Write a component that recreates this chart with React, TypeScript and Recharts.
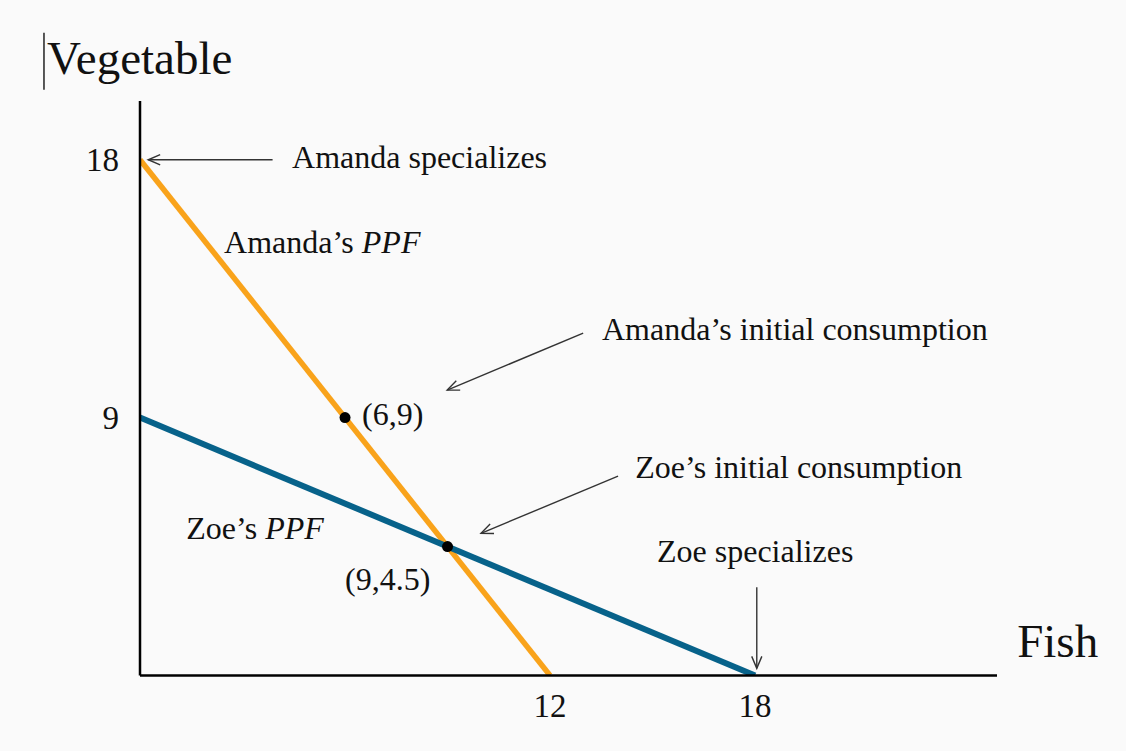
import { ComposedChart, Line, Scatter, XAxis, YAxis, ReferenceLine, ReferenceDot } from "recharts";

// PPF endpoints (fish, vegetable)
const amandaPPF = [{ x: 0, y: 18 }, { x: 12, y: 0 }];
const zoePPF = [{ x: 0, y: 9 }, { x: 18, y: 0 }];
const consumption = [{ x: 6, y: 9 }, { x: 9, y: 4.5 }];
const xTicks = [12, 18];
const yTicks = [9, 18];

// annotation text anchors in data units (left edge, baseline)
const labels = [
  { x: 4.45, y: 17.71, text: "Amanda specializes" },
  { x: 2.46, y: 14.75, text: "Amanda\u2019s ", italic: "PPF" },
  { x: 13.52, y: 11.71, text: "Amanda\u2019s initial consumption" },
  { x: 6.5, y: 8.74, text: "(6,9)" },
  { x: 14.49, y: 6.89, text: "Zoe\u2019s initial consumption" },
  { x: 1.35, y: 4.77, text: "Zoe\u2019s ", italic: "PPF" },
  { x: 6.0, y: 2.98, text: "(9,4.5)" },
  { x: 15.13, y: 3.96, text: "Zoe specializes" },
];
const axisTitles = [
  { x: -2.72, y: 21.0, text: "Vegetable" },
  { x: 25.67, y: 0.65, text: "Fish" },
];
// arrows: tail -> head
const arrows = [
  { from: { x: 3.88, y: 18 }, to: { x: 0.24, y: 18 } },
  { from: { x: 12.97, y: 11.95 }, to: { x: 8.99, y: 9.96 } },
  { from: { x: 13.99, y: 6.96 }, to: { x: 9.98, y: 4.96 } },
  { from: { x: 18.05, y: 3.08 }, to: { x: 18.05, y: 0.25 } },
];

const FONT = '"Liberation Serif", "Times New Roman", serif';

const arrowShape = (p: any) => {
  const { x1, y1, x2, y2 } = p;
  const a = Math.atan2(y2 - y1, x2 - x1);
  const len = 13;
  const s = 0.4;
  const hx1 = x2 - len * Math.cos(a - s), hy1 = y2 - len * Math.sin(a - s);
  const hx2 = x2 - len * Math.cos(a + s), hy2 = y2 - len * Math.sin(a + s);
  return (
    <g stroke="#333" strokeWidth={1.4} fill="none">
      <line x1={x1} y1={y1} x2={x2} y2={y2} />
      <path d={`M${hx1},${hy1} L${x2},${y2} L${hx2},${hy2}`} />
    </g>
  );
};

const tickStyle = { fontSize: 33, fill: "#111", fontFamily: FONT };

export default function App() {
  return (
    <div style={{ position: "fixed", left: 0, top: 0, width: 1126, height: 751, background: "#fafafa" }}>
      <ComposedChart width={1126} height={751} margin={{ top: 101, right: 129, bottom: 45.5, left: 100 }}>
        <XAxis
          type="number"
          dataKey="x"
          domain={[0, 25.08]}
          allowDataOverflow
          ticks={xTicks}
          tickLine={false}
          tickSize={0}
          tickMargin={18}
          height={30}
          axisLine={{ stroke: "#000", strokeWidth: 2.5 }}
          tick={tickStyle}
        />
        <YAxis
          type="number"
          dataKey="y"
          domain={[0, 20.05]}
          allowDataOverflow
          ticks={yTicks}
          tickLine={false}
          tickSize={0}
          tickMargin={21}
          width={40}
          axisLine={{ stroke: "#000", strokeWidth: 2.5 }}
          tick={tickStyle}
        />
        <Line data={amandaPPF} dataKey="y" stroke="#f9a31b" strokeWidth={5.5} dot={false} isAnimationActive={false} />
        <Line data={zoePPF} dataKey="y" stroke="#07628a" strokeWidth={6} dot={false} isAnimationActive={false} />
        <Scatter data={consumption} dataKey="y" fill="#000" shape={(p: any) => <circle cx={p.cx} cy={p.cy} r={5.5} fill="#000" />} isAnimationActive={false} />
        {arrows.map((a, i) => (
          <ReferenceLine key={`arrow-${i}`} segment={[a.from, a.to]} shape={arrowShape} ifOverflow="visible" />
        ))}
        <ReferenceLine segment={[{ x: -2.81, y: 20.44 }, { x: -2.81, y: 22.43 }]} stroke="#222" strokeWidth={1.5} ifOverflow="visible" />
        {labels.map((l, i) => (
          <ReferenceDot
            key={`lbl-${i}`}
            x={l.x}
            y={l.y}
            ifOverflow="visible"
            shape={(p: any) => (
              <text x={p.cx} y={p.cy} fontSize={32} fill="#111" fontFamily={FONT}>
                {l.text}
                {l.italic && <tspan fontStyle="italic">{l.italic}</tspan>}
              </text>
            )}
          />
        ))}
        {axisTitles.map((l, i) => (
          <ReferenceDot
            key={`title-${i}`}
            x={l.x}
            y={l.y}
            ifOverflow="visible"
            shape={(p: any) => (
              <text x={p.cx} y={p.cy} fontSize={47} fill="#111" fontFamily={FONT}>
                {l.text}
              </text>
            )}
          />
        ))}
      </ComposedChart>
    </div>
  );
}
